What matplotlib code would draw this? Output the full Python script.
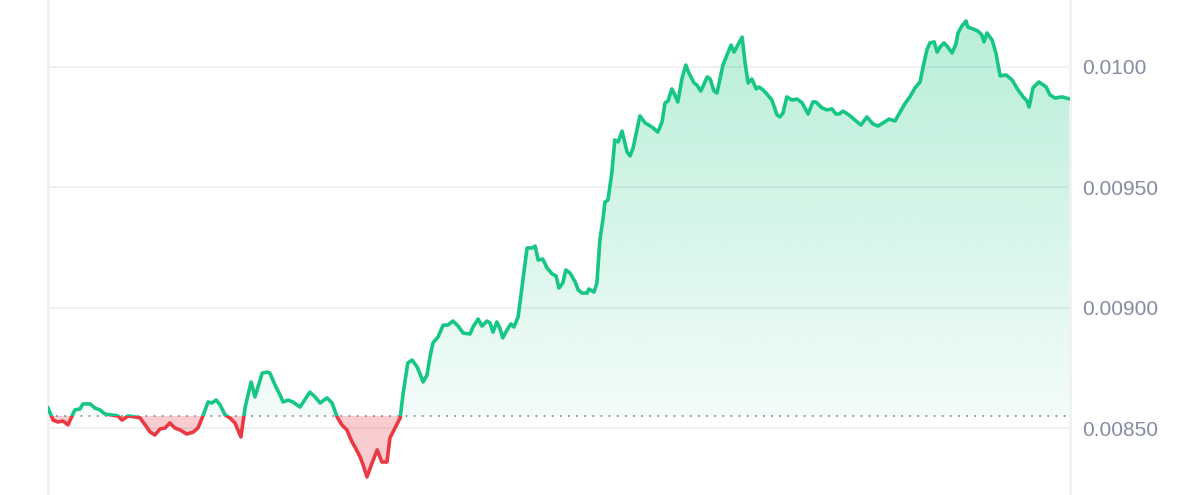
import numpy as np
import matplotlib
matplotlib.use("Agg")
import matplotlib.pyplot as plt
from matplotlib.path import Path
from matplotlib.patches import Rectangle

plt.rcParams['font.family'] = ['Liberation Sans', 'DejaVu Sans']

# hours since start of the 24h window
hours = [
    0.00, 0.12, 0.23, 0.35, 0.47, 0.63, 0.75, 0.82, 0.99, 1.10,
    1.22, 1.34, 1.50, 1.64, 1.74, 1.88, 2.04, 2.16, 2.28, 2.40,
    2.51, 2.63, 2.75, 2.86, 2.98, 3.10, 3.26, 3.41, 3.52, 3.62,
    3.76, 3.85, 3.95, 4.04, 4.16, 4.27, 4.39, 4.53, 4.63, 4.77,
    4.86, 5.03, 5.14, 5.21, 5.33, 5.45, 5.52, 5.64, 5.75, 5.92,
    6.04, 6.15, 6.27, 6.39, 6.55, 6.67, 6.79, 6.90, 7.02, 7.14,
    7.21, 7.33, 7.40, 7.49, 7.61, 7.73, 7.84, 7.96, 8.03, 8.15,
    8.27, 8.34, 8.45, 8.55, 8.67, 8.81, 8.90, 8.97, 9.04, 9.16,
    9.28, 9.39, 9.51, 9.63, 9.75, 9.91, 9.98, 10.10, 10.19, 10.31,
    10.38, 10.45, 10.54, 10.61, 10.68, 10.78, 10.87, 10.94, 11.04, 11.13,
    11.25, 11.37, 11.44, 11.51, 11.62, 11.72, 11.84, 11.93, 12.00, 12.09,
    12.16, 12.26, 12.38, 12.45, 12.54, 12.66, 12.70, 12.82, 12.89, 12.96,
    13.03, 13.08, 13.15, 13.24, 13.31, 13.39, 13.48, 13.60, 13.67, 13.74,
    13.90, 14.02, 14.11, 14.21, 14.32, 14.42, 14.49, 14.56, 14.65, 14.72,
    14.79, 14.89, 14.98, 15.05, 15.17, 15.24, 15.33, 15.48, 15.55, 15.64,
    15.71, 15.85, 16.04, 16.11, 16.30, 16.37, 16.44, 16.53, 16.63, 16.70,
    16.79, 16.88, 17.00, 17.12, 17.19, 17.26, 17.35, 17.47, 17.59, 17.71,
    17.85, 17.96, 18.03, 18.18, 18.29, 18.41, 18.50, 18.58, 18.67, 18.81,
    18.95, 19.09, 19.23, 19.37, 19.49, 19.61, 19.75, 19.89, 20.01, 20.12,
    20.24, 20.36, 20.48, 20.55, 20.64, 20.71, 20.81, 20.88, 20.95, 21.04,
    21.13, 21.23, 21.32, 21.37, 21.46, 21.56, 21.60, 21.72, 21.84, 21.93,
    21.98, 22.05, 22.17, 22.26, 22.36, 22.50, 22.64, 22.78, 22.90, 22.99,
    23.04, 23.13, 23.27, 23.44, 23.53, 23.65, 23.81, 24.00,
]

price = [
    0.008585, 0.008535, 0.008527, 0.008531, 0.008515, 0.008577, 0.008581, 0.008602, 0.008602, 0.008585,
    0.008577, 0.008560, 0.008556, 0.008552, 0.008535, 0.008552, 0.008548, 0.008544, 0.008515, 0.008485,
    0.008473, 0.008498, 0.008502, 0.008523, 0.008502, 0.008494, 0.008477, 0.008485, 0.008502, 0.008544,
    0.008610, 0.008606, 0.008618, 0.008598, 0.008556, 0.008544, 0.008523, 0.008465, 0.008589, 0.008693,
    0.008631, 0.008730, 0.008734, 0.008730, 0.008681, 0.008639, 0.008610, 0.008618, 0.008610, 0.008589,
    0.008622, 0.008651, 0.008631, 0.008606, 0.008627, 0.008606, 0.008548, 0.008515, 0.008494, 0.008444,
    0.008423, 0.008382, 0.008349, 0.008299, 0.008357, 0.008411, 0.008361, 0.008361, 0.008461, 0.008502,
    0.008544, 0.008647, 0.008772, 0.008784, 0.008755, 0.008693, 0.008722, 0.008797, 0.008855, 0.008880,
    0.008929, 0.008929, 0.008946, 0.008925, 0.008896, 0.008892, 0.008921, 0.008954, 0.008925, 0.008946,
    0.008938, 0.008900, 0.008942, 0.008917, 0.008876, 0.008909, 0.008934, 0.008921, 0.008963, 0.009087,
    0.009249, 0.009249, 0.009257, 0.009199, 0.009203, 0.009166, 0.009141, 0.009133, 0.009083, 0.009104,
    0.009158, 0.009145, 0.009108, 0.009075, 0.009062, 0.009062, 0.009079, 0.009066, 0.009104, 0.009282,
    0.009365, 0.009440, 0.009448, 0.009560, 0.009697, 0.009689, 0.009734, 0.009647, 0.009631, 0.009664,
    0.009797, 0.009768, 0.009759, 0.009747, 0.009730, 0.009772, 0.009851, 0.009859, 0.009909, 0.009884,
    0.009855, 0.009954, 0.010008, 0.009975, 0.009934, 0.009925, 0.009900, 0.009959, 0.009950, 0.009900,
    0.009892, 0.010008, 0.010091, 0.010062, 0.010124, 0.010017, 0.009934, 0.009950, 0.009909, 0.009917,
    0.009905, 0.009888, 0.009863, 0.009801, 0.009793, 0.009809, 0.009876, 0.009863, 0.009867, 0.009851,
    0.009805, 0.009855, 0.009855, 0.009830, 0.009822, 0.009826, 0.009805, 0.009805, 0.009817, 0.009801,
    0.009780, 0.009759, 0.009793, 0.009764, 0.009755, 0.009768, 0.009784, 0.009776, 0.009813, 0.009847,
    0.009876, 0.009913, 0.009938, 0.010000, 0.010071, 0.010100, 0.010104, 0.010062, 0.010083, 0.010100,
    0.010083, 0.010058, 0.010095, 0.010141, 0.010170, 0.010191, 0.010166, 0.010158, 0.010149, 0.010133,
    0.010104, 0.010141, 0.010112, 0.010058, 0.009963, 0.009967, 0.009946, 0.009905, 0.009876, 0.009859,
    0.009834, 0.009913, 0.009938, 0.009917, 0.009884, 0.009871, 0.009876, 0.009867,
]

open_price = 0.008552
tick_values = [0.0085, 0.0090, 0.0095, 0.0100]
tick_labels = ['0.00850', '0.00900', '0.00950', '0.0100']

green = '#16c784'
red = '#ea3943'
y_lo, y_hi = 0.008224, 0.010278

x = np.array(hours)
y = np.array(price)

fig = plt.figure(figsize=(12, 4.95), dpi=100)
ax = fig.add_axes([48 / 1200, 0, 1022 / 1200, 1])
ax.set_xlim(0, 24)
ax.set_ylim(y_lo, y_hi)

# grid + frame
for v in tick_values:
    ax.axhline(v, color='#eff1f4', lw=1.5, zorder=0)
for side in ['top', 'bottom']:
    ax.spines[side].set_visible(False)
for side in ['left', 'right']:
    ax.spines[side].set_color('#eff1f4')
    ax.spines[side].set_linewidth(2)

# green area with vertical gradient
up = ax.fill_between(x, y, open_price, where=y >= open_price, interpolate=True,
                     color='none', lw=0)
grad = np.linspace(0.05, 0.32, 256).reshape(-1, 1)
rgba = np.zeros((256, 1, 4))
rgba[..., :3] = matplotlib.colors.to_rgb(green)
rgba[..., 3] = grad
im = ax.imshow(rgba, extent=[0, 24, open_price, y_hi], origin='lower',
               aspect='auto', zorder=1, interpolation='bilinear')
clip = Path.make_compound_path(*up.get_paths())
im.set_clip_path(clip, transform=ax.transData)

# red area
ax.fill_between(x, y, open_price, where=y <= open_price, interpolate=True,
                color=red, alpha=0.25, lw=0, zorder=1)

# baseline
ax.axhline(open_price, color='#8f8f8f', lw=1.3, ls=(0, (1, 3.5)), zorder=2)

# line, coloured by side of the open price
for col, lo, hi in [(green, open_price, y_hi), (red, y_lo, open_price)]:
    ln, = ax.plot(x, y, color=col, lw=2.6, solid_joinstyle='round', zorder=3)
    rect = Rectangle((0, lo), 24, hi - lo, transform=ax.transData)
    ln.set_clip_path(rect)

ax.set_xticks([])
ax.yaxis.tick_right()
ax.set_yticks(tick_values)
ax.set_yticklabels(tick_labels)
ax.tick_params(axis='y', length=0, pad=9, labelsize=15, labelcolor='#858ca2')

fig.savefig('out.png', dpi=100)
